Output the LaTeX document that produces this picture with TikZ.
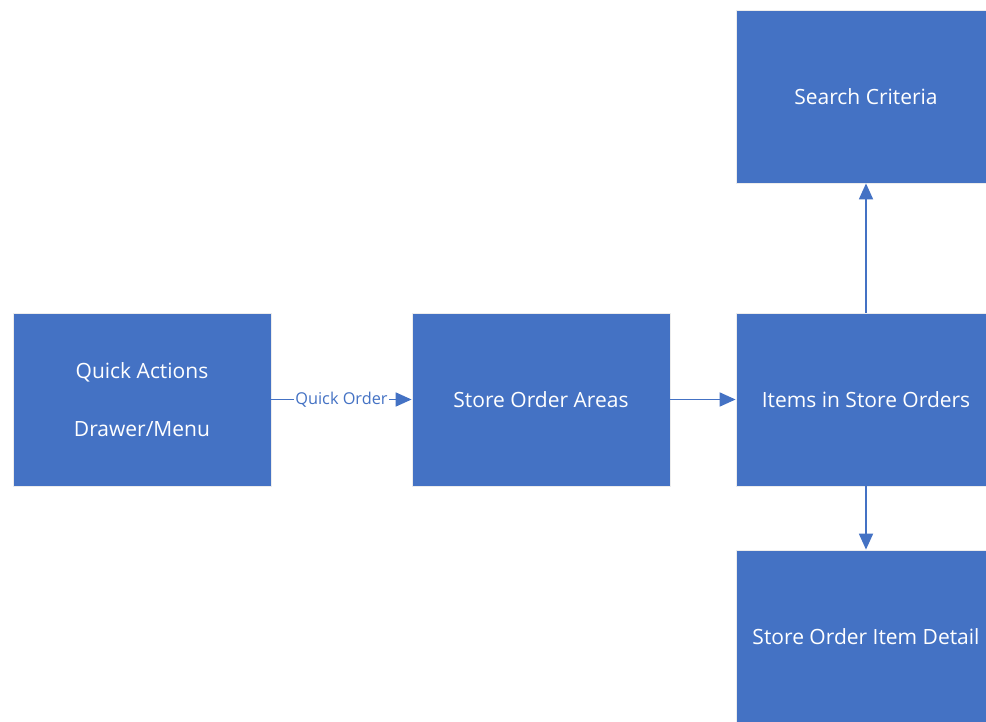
\documentclass[tikz,border=0pt]{standalone}
\usepackage{fontspec}
\setmainfont{Open Sans}
\usetikzlibrary{arrows.meta}
\definecolor{boxblue}{HTML}{4472C4}
\tikzset{
  blockbox/.style={rectangle, fill=boxblue, draw=white!85!gray, line width=0.8pt,
    minimum width=258pt, minimum height=173pt, inner sep=0pt, text=white,
    font=\fontsize{21}{26}\selectfont, align=center},
  flow/.style={draw=boxblue, line width=1.8pt, -{Triangle[length=16pt,width=14pt]}},
  flowlabel/.style={fill=white, text=boxblue, inner sep=1pt, font=\fontsize{16.3}{19}\selectfont}
}
\begin{document}
\begin{tikzpicture}[x=1pt,y=1pt]
\useasboundingbox (0,0) rectangle (986,721);
\node[blockbox] (qa) at (142,321.5) {Quick Actions\\[32pt]Drawer/Menu};
\node[blockbox] (soa) at (541,321.5) {Store Order Areas};
\node[blockbox, minimum width=260pt] (isso) at (866,321.5) {Items in Store Orders};
\node[blockbox, minimum width=260pt] (sc) at (866,624.5) {Search Criteria};
\node[blockbox, minimum width=260pt] (sod) at (866,84.5) {Store Order Item Detail};
\draw[flow] (qa.east) -- node[flowlabel] (qol) {Quick Order} (soa.west);
\draw[flow] (soa.east) -- (isso.west);
\draw[flow] (isso.north) -- (sc.south);
\draw[flow] (isso.south) -- (sod.north);
\end{tikzpicture}
\end{document}
